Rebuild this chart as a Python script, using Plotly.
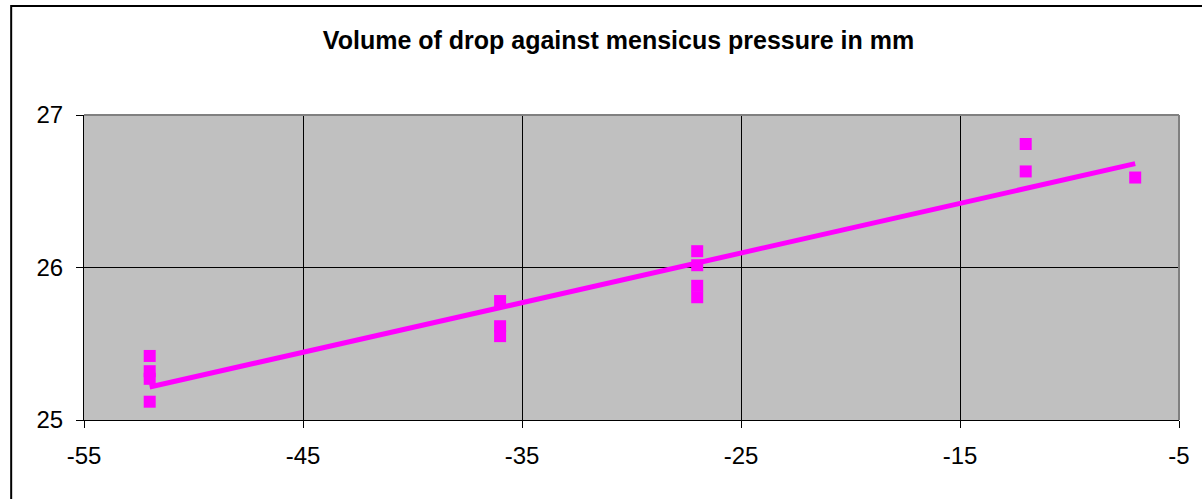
import numpy as np
import plotly.graph_objects as go

# meniscus pressure (mm) and drop volume readings
pressure = [-52, -52, -52, -52, -36, -36, -36, -27, -27, -27, -27, -12, -12, -7]
volume = [25.42, 25.32, 25.27, 25.12, 25.78, 25.615, 25.55,
          26.107, 26.015, 25.88, 25.805, 26.81, 26.63, 26.59]

x_ticks = [-55, -45, -35, -25, -15, -5]
x_labels = ['-55', '-45', '-35', '-25', '-15', '-5']
y_ticks = [25, 26, 27]
y_labels = ['25', '26', '27']

# linear trendline, like the spreadsheet one
slope, intercept = np.polyfit(pressure, volume, 1)
trend_x = [min(pressure), max(pressure)]
trend_y = [slope * v + intercept for v in trend_x]

fig = go.Figure()
fig.add_trace(go.Scatter(x=trend_x, y=trend_y, mode='lines', name='Trend',
                         line=dict(width=5, color='#FF00FF')))
fig.add_trace(go.Scatter(x=pressure, y=volume, mode='markers', name='Volume',
                         marker=dict(symbol='square', size=12, color='#FF00FF')))

axis_style = dict(ticks='outside', ticklen=7, tickcolor='black', showline=True,
                  linecolor='black', linewidth=1, showgrid=True, gridcolor='black',
                  gridwidth=1, zeroline=False, tickfont=dict(size=24, color='black'))
fig.update_xaxes(range=[-55, -5], tickvals=x_ticks, ticktext=x_labels,
                 ticklabelstandoff=7, **axis_style)
fig.update_yaxes(range=[25, 27], tickvals=y_ticks, ticktext=y_labels,
                 ticklabelstandoff=8, **axis_style)

# grey frame on top and right of the plot area
fig.add_shape(type='line', xref='paper', yref='paper', x0=0, x1=1, y0=1, y1=1,
              line=dict(color='#808080', width=2))
fig.add_shape(type='line', xref='paper', yref='paper', x0=1, x1=1, y0=0, y1=1,
              line=dict(color='#808080', width=2))
# outer chart border
fig.add_shape(type='rect', xref='paper', yref='paper',
              x0=-0.0665, x1=1.2, y0=-0.5, y1=1.357,
              line=dict(color='black', width=2), layer='below')

fig.update_layout(
    width=1202, height=499,
    title=dict(text='<b>Volume of drop against mensicus pressure in mm</b>',
               x=0.5146, xanchor='center', y=0.92, yanchor='middle',
               font=dict(family='Arial, Liberation Sans', size=25, color='black')),
    font=dict(family='Arial, Liberation Sans', color='black'),
    showlegend=False,
    plot_bgcolor='#C0C0C0', paper_bgcolor='white',
    margin=dict(l=84, r=20, t=115, b=79),
)

fig.write_html("out.html", config={'displayModeBar': False},
               post_script="document.body.style.margin='0';")
